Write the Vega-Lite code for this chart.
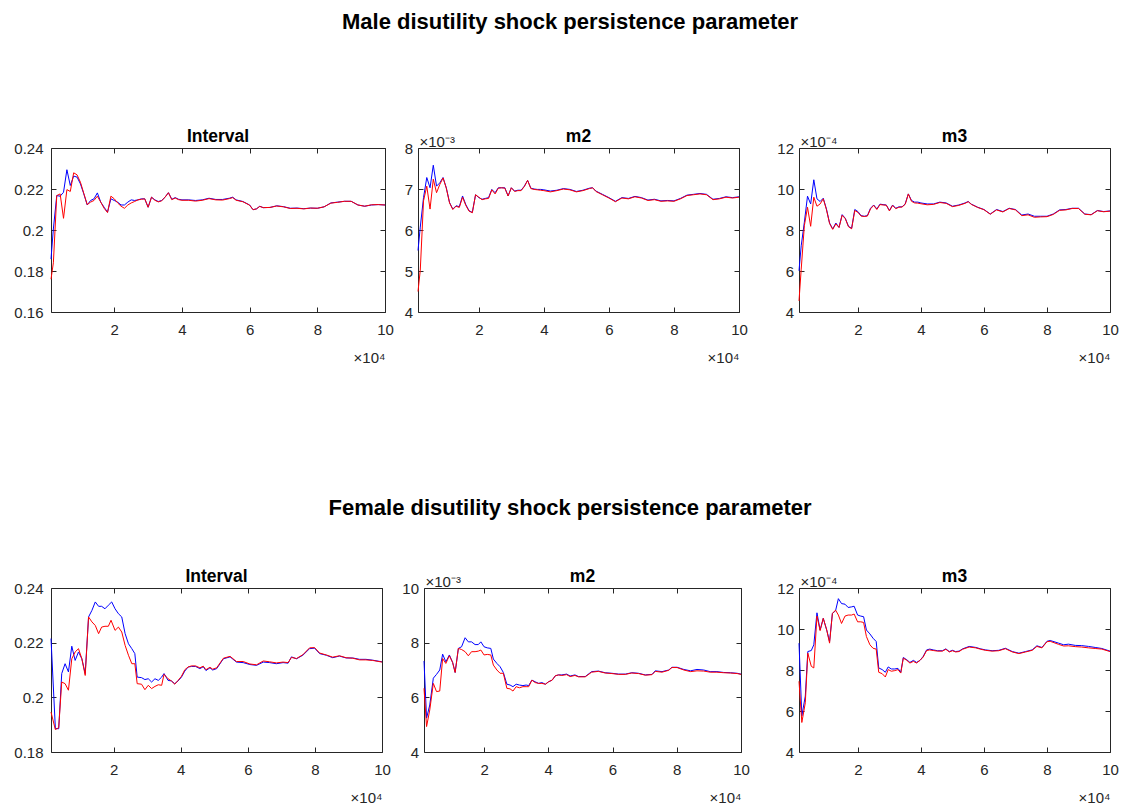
{
  "$schema": "https://vega.github.io/schema/vega-lite/v6.json",
  "background": "white",
  "padding": {"left": 13, "top": 10, "right": 5, "bottom": 5},
  "config": {
    "font": "Liberation Sans",
    "view": {"stroke": null},
    "axis": {
      "grid": false,
      "domainColor": "#262626",
      "domainWidth": 1,
      "tickColor": "#262626",
      "tickWidth": 1,
      "tickSize": -5,
      "labelColor": "#262626",
      "labelFont": "Liberation Sans",
      "labelFontSize": 15,
      "labelPadding": 13,
      "titleColor": "#262626",
      "titleFont": "Liberation Sans",
      "titleFontSize": 15,
      "titleFontWeight": "normal"
    },
    "axisX": {"labelPadding": 15},
    "title": {"anchor": "middle", "font": "Liberation Sans", "fontWeight": "bold", "color": "#000000", "fontSize": 17.5}
  },
  "datasets": {
    "male_interval_1": [
      {"x":1300,"value":0.1858},{"x":2000,"value":0.2005},{"x":3000,"value":0.2168},{"x":4000,"value":0.2165},{"x":5000,"value":0.2184},{"x":6000,"value":0.2294},{"x":7000,"value":0.2217},{"x":8000,"value":0.2263},{"x":9000,"value":0.2258},{"x":10000,"value":0.2225},
      {"x":11000,"value":0.2176},{"x":12000,"value":0.2122},{"x":13000,"value":0.2144},{"x":14000,"value":0.2152},{"x":15000,"value":0.2181},{"x":16000,"value":0.2136},{"x":17000,"value":0.2111},{"x":18000,"value":0.2087},{"x":19000,"value":0.2152},{"x":20000,"value":0.2144},
      {"x":21000,"value":0.2136},{"x":22000,"value":0.2122},{"x":23000,"value":0.2122},{"x":24000,"value":0.2136},{"x":25000,"value":0.2147},{"x":26000,"value":0.2144},{"x":27000,"value":0.2147},{"x":28000,"value":0.2152},{"x":29000,"value":0.2152},{"x":30000,"value":0.2111},
      {"x":31000,"value":0.216},{"x":32000,"value":0.2147},{"x":33000,"value":0.2139},{"x":34000,"value":0.2144},{"x":35000,"value":0.216},{"x":36000,"value":0.2182},{"x":37000,"value":0.215},{"x":38000,"value":0.2158},{"x":39000,"value":0.215},{"x":40000,"value":0.2147},
      {"x":42000,"value":0.2147},{"x":44000,"value":0.2144},{"x":46000,"value":0.2147},{"x":48000,"value":0.2155},{"x":50000,"value":0.2149},{"x":52000,"value":0.2149},{"x":54000,"value":0.2155},{"x":55000,"value":0.216},{"x":56000,"value":0.2147},{"x":58000,"value":0.2139},
      {"x":60000,"value":0.2122},{"x":61000,"value":0.2099},{"x":62000,"value":0.2103},{"x":63000,"value":0.2116},{"x":64000,"value":0.2109},{"x":66000,"value":0.211},{"x":68000,"value":0.2118},{"x":70000,"value":0.2114},{"x":72000,"value":0.2106},{"x":74000,"value":0.2107},
      {"x":76000,"value":0.2104},{"x":78000,"value":0.2107},{"x":80000,"value":0.2106},{"x":82000,"value":0.2113},{"x":84000,"value":0.2132},{"x":86000,"value":0.2136},{"x":88000,"value":0.214},{"x":90000,"value":0.214},{"x":92000,"value":0.2122},{"x":94000,"value":0.2116},
      {"x":96000,"value":0.2122},{"x":98000,"value":0.2124},{"x":100000,"value":0.2122}
    ],
    "male_interval_2": [
      {"x":1300,"value":0.176},{"x":2000,"value":0.184},{"x":3000,"value":0.2168},{"x":4000,"value":0.2176},{"x":5000,"value":0.2057},{"x":6000,"value":0.2197},{"x":7000,"value":0.2188},{"x":8000,"value":0.2279},{"x":9000,"value":0.2269},{"x":10000,"value":0.2233},
      {"x":11000,"value":0.2178},{"x":12000,"value":0.2124},{"x":13000,"value":0.2136},{"x":14000,"value":0.2144},{"x":15000,"value":0.2165},{"x":16000,"value":0.2136},{"x":17000,"value":0.2106},{"x":18000,"value":0.2085},{"x":19000,"value":0.2165},{"x":20000,"value":0.2152},
      {"x":21000,"value":0.2132},{"x":22000,"value":0.2116},{"x":23000,"value":0.2106},{"x":24000,"value":0.2122},{"x":25000,"value":0.2132},{"x":26000,"value":0.2139},{"x":27000,"value":0.2147},{"x":28000,"value":0.215},{"x":29000,"value":0.2152},{"x":30000,"value":0.2111},
      {"x":31000,"value":0.216},{"x":32000,"value":0.2145},{"x":33000,"value":0.2137},{"x":34000,"value":0.2142},{"x":35000,"value":0.216},{"x":36000,"value":0.2182},{"x":37000,"value":0.2148},{"x":38000,"value":0.2156},{"x":39000,"value":0.2148},{"x":40000,"value":0.2145},
      {"x":42000,"value":0.2145},{"x":44000,"value":0.2141},{"x":46000,"value":0.2145},{"x":48000,"value":0.2153},{"x":50000,"value":0.2147},{"x":52000,"value":0.2146},{"x":54000,"value":0.2153},{"x":55000,"value":0.2158},{"x":56000,"value":0.2145},{"x":58000,"value":0.2138},
      {"x":60000,"value":0.2121},{"x":61000,"value":0.2099},{"x":62000,"value":0.2103},{"x":63000,"value":0.2115},{"x":64000,"value":0.2109},{"x":66000,"value":0.211},{"x":68000,"value":0.2117},{"x":70000,"value":0.2113},{"x":72000,"value":0.2105},{"x":74000,"value":0.2106},
      {"x":76000,"value":0.2103},{"x":78000,"value":0.2107},{"x":80000,"value":0.2106},{"x":82000,"value":0.2113},{"x":84000,"value":0.2131},{"x":86000,"value":0.2135},{"x":88000,"value":0.214},{"x":90000,"value":0.214},{"x":92000,"value":0.2122},{"x":94000,"value":0.2116},
      {"x":96000,"value":0.2123},{"x":98000,"value":0.2124},{"x":100000,"value":0.2122}
    ],
    "male_m2_1": [
      {"x":1300,"value":0.0055},{"x":2000,"value":0.00607},{"x":3000,"value":0.00679},{"x":4000,"value":0.00728},{"x":5000,"value":0.00703},{"x":6000,"value":0.00758},{"x":7000,"value":0.00707},{"x":8000,"value":0.00715},{"x":9000,"value":0.00728},{"x":10000,"value":0.00703},
      {"x":11000,"value":0.00667},{"x":12000,"value":0.00651},{"x":13000,"value":0.00659},{"x":14000,"value":0.00657},{"x":15000,"value":0.00683},{"x":16000,"value":0.00662},{"x":17000,"value":0.00647},{"x":18000,"value":0.00643},{"x":19000,"value":0.00686},{"x":20000,"value":0.00679},
      {"x":21000,"value":0.00675},{"x":22000,"value":0.00677},{"x":23000,"value":0.00679},{"x":24000,"value":0.00699},{"x":25000,"value":0.00691},{"x":26000,"value":0.00703},{"x":27000,"value":0.00703},{"x":28000,"value":0.00703},{"x":29000,"value":0.00683},{"x":30000,"value":0.00703},
      {"x":31000,"value":0.00695},{"x":32000,"value":0.00697},{"x":33000,"value":0.00697},{"x":34000,"value":0.00707},{"x":35000,"value":0.00721},{"x":36000,"value":0.00702},{"x":37000,"value":0.007},{"x":38000,"value":0.00699},{"x":39000,"value":0.00699},{"x":40000,"value":0.00698},
      {"x":42000,"value":0.00695},{"x":44000,"value":0.00697},{"x":46000,"value":0.00701},{"x":48000,"value":0.00699},{"x":50000,"value":0.00694},{"x":52000,"value":0.00697},{"x":54000,"value":0.00702},{"x":55000,"value":0.00703},{"x":56000,"value":0.00695},{"x":58000,"value":0.00687},
      {"x":60000,"value":0.00679},{"x":62000,"value":0.0067},{"x":64000,"value":0.00679},{"x":66000,"value":0.00677},{"x":68000,"value":0.00682},{"x":70000,"value":0.00679},{"x":72000,"value":0.00673},{"x":74000,"value":0.00675},{"x":76000,"value":0.00671},{"x":78000,"value":0.00672},
      {"x":80000,"value":0.00671},{"x":82000,"value":0.00677},{"x":84000,"value":0.00685},{"x":86000,"value":0.00687},{"x":88000,"value":0.00689},{"x":90000,"value":0.00687},{"x":92000,"value":0.00675},{"x":94000,"value":0.00677},{"x":96000,"value":0.00681},{"x":98000,"value":0.00679},
      {"x":100000,"value":0.00681}
    ],
    "male_m2_2": [
      {"x":1300,"value":0.0045},{"x":2000,"value":0.00502},{"x":3000,"value":0.00671},{"x":4000,"value":0.00707},{"x":5000,"value":0.00651},{"x":6000,"value":0.00724},{"x":7000,"value":0.00691},{"x":8000,"value":0.00711},{"x":9000,"value":0.00727},{"x":10000,"value":0.00702},
      {"x":11000,"value":0.00666},{"x":12000,"value":0.0065},{"x":13000,"value":0.00658},{"x":14000,"value":0.00655},{"x":15000,"value":0.0068},{"x":16000,"value":0.0066},{"x":17000,"value":0.00646},{"x":18000,"value":0.00642},{"x":19000,"value":0.00686},{"x":20000,"value":0.0068},
      {"x":21000,"value":0.00674},{"x":22000,"value":0.00676},{"x":23000,"value":0.00677},{"x":24000,"value":0.00698},{"x":25000,"value":0.00688},{"x":26000,"value":0.00702},{"x":27000,"value":0.00703},{"x":28000,"value":0.00702},{"x":29000,"value":0.00683},{"x":30000,"value":0.00703},
      {"x":31000,"value":0.00694},{"x":32000,"value":0.00696},{"x":33000,"value":0.00696},{"x":34000,"value":0.00706},{"x":35000,"value":0.00721},{"x":36000,"value":0.00701},{"x":37000,"value":0.00699},{"x":38000,"value":0.00698},{"x":39000,"value":0.00697},{"x":40000,"value":0.00696},
      {"x":42000,"value":0.00693},{"x":44000,"value":0.00696},{"x":46000,"value":0.007},{"x":48000,"value":0.00698},{"x":50000,"value":0.00693},{"x":52000,"value":0.00696},{"x":54000,"value":0.00701},{"x":55000,"value":0.00703},{"x":56000,"value":0.00694},{"x":58000,"value":0.00686},
      {"x":60000,"value":0.00678},{"x":62000,"value":0.00669},{"x":64000,"value":0.00678},{"x":66000,"value":0.00676},{"x":68000,"value":0.00681},{"x":70000,"value":0.00678},{"x":72000,"value":0.00672},{"x":74000,"value":0.00674},{"x":76000,"value":0.0067},{"x":78000,"value":0.00671},
      {"x":80000,"value":0.0067},{"x":82000,"value":0.00676},{"x":84000,"value":0.00684},{"x":86000,"value":0.00686},{"x":88000,"value":0.00688},{"x":90000,"value":0.00686},{"x":92000,"value":0.00674},{"x":94000,"value":0.00676},{"x":96000,"value":0.0068},{"x":98000,"value":0.00678},
      {"x":100000,"value":0.0068}
    ],
    "male_m3_1": [
      {"x":1300,"value":0.000601},{"x":2000,"value":0.000723},{"x":3000,"value":0.000838},{"x":4000,"value":0.000965},{"x":5000,"value":0.000927},{"x":6000,"value":0.001045},{"x":7000,"value":0.000952},{"x":8000,"value":0.000939},{"x":9000,"value":0.000955},{"x":10000,"value":0.000903},
      {"x":11000,"value":0.000834},{"x":12000,"value":0.000805},{"x":13000,"value":0.000834},{"x":14000,"value":0.000813},{"x":15000,"value":0.000875},{"x":16000,"value":0.000857},{"x":17000,"value":0.000818},{"x":18000,"value":0.000808},{"x":19000,"value":0.0009},{"x":20000,"value":0.00089},
      {"x":21000,"value":0.00087},{"x":22000,"value":0.000867},{"x":23000,"value":0.00087},{"x":24000,"value":0.000906},{"x":25000,"value":0.000922},{"x":26000,"value":0.000903},{"x":27000,"value":0.000926},{"x":28000,"value":0.000924},{"x":29000,"value":0.000922},{"x":30000,"value":0.000895},
      {"x":31000,"value":0.000922},{"x":32000,"value":0.000906},{"x":33000,"value":0.000913},{"x":34000,"value":0.000913},{"x":35000,"value":0.000927},{"x":36000,"value":0.000976},{"x":37000,"value":0.000944},{"x":38000,"value":0.000936},{"x":39000,"value":0.000936},{"x":40000,"value":0.000932},
      {"x":42000,"value":0.000927},{"x":44000,"value":0.000927},{"x":46000,"value":0.000936},{"x":48000,"value":0.000932},{"x":50000,"value":0.000916},{"x":52000,"value":0.000922},{"x":54000,"value":0.000932},{"x":55000,"value":0.000939},{"x":56000,"value":0.000926},{"x":58000,"value":0.000911},
      {"x":60000,"value":0.0009},{"x":62000,"value":0.000878},{"x":64000,"value":0.0009},{"x":66000,"value":0.00089},{"x":68000,"value":0.000906},{"x":70000,"value":0.0009},{"x":72000,"value":0.000873},{"x":74000,"value":0.000878},{"x":76000,"value":0.000867},{"x":78000,"value":0.000867},
      {"x":80000,"value":0.000867},{"x":82000,"value":0.000878},{"x":84000,"value":0.000898},{"x":86000,"value":0.0009},{"x":88000,"value":0.000906},{"x":90000,"value":0.000906},{"x":92000,"value":0.000878},{"x":94000,"value":0.000875},{"x":96000,"value":0.000895},{"x":98000,"value":0.00089},
      {"x":100000,"value":0.000893}
    ],
    "male_m3_2": [
      {"x":1300,"value":0.000454},{"x":2000,"value":0.000609},{"x":3000,"value":0.000821},{"x":4000,"value":0.000911},{"x":5000,"value":0.000818},{"x":6000,"value":0.00096},{"x":7000,"value":0.000916},{"x":8000,"value":0.000927},{"x":9000,"value":0.000952},{"x":10000,"value":0.0009},
      {"x":11000,"value":0.000832},{"x":12000,"value":0.000803},{"x":13000,"value":0.00083},{"x":14000,"value":0.000812},{"x":15000,"value":0.000872},{"x":16000,"value":0.000855},{"x":17000,"value":0.000816},{"x":18000,"value":0.000806},{"x":19000,"value":0.000895},{"x":20000,"value":0.000886},
      {"x":21000,"value":0.000868},{"x":22000,"value":0.000866},{"x":23000,"value":0.000868},{"x":24000,"value":0.000903},{"x":25000,"value":0.00092},{"x":26000,"value":0.0009},{"x":27000,"value":0.000924},{"x":28000,"value":0.000922},{"x":29000,"value":0.000921},{"x":30000,"value":0.000893},
      {"x":31000,"value":0.00092},{"x":32000,"value":0.000904},{"x":33000,"value":0.000911},{"x":34000,"value":0.000912},{"x":35000,"value":0.000925},{"x":36000,"value":0.000976},{"x":37000,"value":0.00094},{"x":38000,"value":0.000932},{"x":39000,"value":0.000931},{"x":40000,"value":0.000928},
      {"x":42000,"value":0.000923},{"x":44000,"value":0.000925},{"x":46000,"value":0.000934},{"x":48000,"value":0.00093},{"x":50000,"value":0.000914},{"x":52000,"value":0.00092},{"x":54000,"value":0.00093},{"x":55000,"value":0.000938},{"x":56000,"value":0.000925},{"x":58000,"value":0.00091},
      {"x":60000,"value":0.000899},{"x":62000,"value":0.000877},{"x":64000,"value":0.000898},{"x":66000,"value":0.000888},{"x":68000,"value":0.000905},{"x":70000,"value":0.000898},{"x":72000,"value":0.00087},{"x":74000,"value":0.000874},{"x":76000,"value":0.000862},{"x":78000,"value":0.000864},
      {"x":80000,"value":0.000865},{"x":82000,"value":0.000876},{"x":84000,"value":0.000896},{"x":86000,"value":0.000898},{"x":88000,"value":0.000905},{"x":90000,"value":0.000905},{"x":92000,"value":0.000877},{"x":94000,"value":0.000874},{"x":96000,"value":0.000894},{"x":98000,"value":0.000889},
      {"x":100000,"value":0.000892}
    ],
    "female_interval_1": [
      {"x":1300,"value":0.2215},{"x":2600,"value":0.1886},{"x":3600,"value":0.1885},{"x":4500,"value":0.2087},{"x":5500,"value":0.2123},{"x":6500,"value":0.2093},{"x":7500,"value":0.2187},{"x":8500,"value":0.2135},{"x":9500,"value":0.2166},{"x":10500,"value":0.2141},
      {"x":11500,"value":0.2087},{"x":12500,"value":0.2294},{"x":13500,"value":0.2318},{"x":14500,"value":0.2349},{"x":15500,"value":0.2333},{"x":16400,"value":0.2333},{"x":17400,"value":0.2324},{"x":18400,"value":0.2337},{"x":19400,"value":0.2349},{"x":20400,"value":0.2324},
      {"x":21400,"value":0.2306},{"x":22400,"value":0.2294},{"x":23400,"value":0.2233},{"x":24400,"value":0.2196},{"x":25400,"value":0.2178},{"x":26300,"value":0.216},{"x":27000,"value":0.2074},{"x":28300,"value":0.2072},{"x":29300,"value":0.2065},{"x":30300,"value":0.2068},
      {"x":31300,"value":0.2056},{"x":32300,"value":0.2068},{"x":33300,"value":0.2062},{"x":34300,"value":0.2074},{"x":35000,"value":0.2087},{"x":36200,"value":0.2062},{"x":37200,"value":0.206},{"x":38200,"value":0.205},{"x":39200,"value":0.206},{"x":40200,"value":0.2074},
      {"x":41200,"value":0.2096},{"x":42200,"value":0.2111},{"x":43200,"value":0.2113},{"x":44400,"value":0.2113},{"x":45700,"value":0.2105},{"x":46700,"value":0.2112},{"x":47500,"value":0.2098},{"x":48700,"value":0.2108},{"x":49500,"value":0.21},{"x":50700,"value":0.2105},
      {"x":52700,"value":0.2141},{"x":54700,"value":0.2148},{"x":56600,"value":0.2129},{"x":58600,"value":0.2127},{"x":60600,"value":0.212},{"x":62600,"value":0.2117},{"x":64600,"value":0.2129},{"x":66500,"value":0.2127},{"x":68500,"value":0.2123},{"x":70500,"value":0.2127},
      {"x":72000,"value":0.2125},{"x":73000,"value":0.2148},{"x":74500,"value":0.2141},{"x":76400,"value":0.2154},{"x":78400,"value":0.2178},{"x":79900,"value":0.218},{"x":81400,"value":0.216},{"x":83400,"value":0.2154},{"x":85300,"value":0.2145},{"x":87300,"value":0.2151},
      {"x":89300,"value":0.2144},{"x":91300,"value":0.2144},{"x":93300,"value":0.2139},{"x":95200,"value":0.2139},{"x":97200,"value":0.2136},{"x":100000,"value":0.213}
    ],
    "female_interval_2": [
      {"x":1300,"value":0.1946},{"x":2600,"value":0.1882},{"x":3600,"value":0.1889},{"x":4500,"value":0.2056},{"x":5500,"value":0.205},{"x":6500,"value":0.2026},{"x":7500,"value":0.2141},{"x":8500,"value":0.2166},{"x":9500,"value":0.2178},{"x":10500,"value":0.2141},
      {"x":11500,"value":0.208},{"x":12500,"value":0.2294},{"x":13500,"value":0.2276},{"x":14500,"value":0.2263},{"x":15500,"value":0.2233},{"x":16400,"value":0.2257},{"x":17400,"value":0.226},{"x":18400,"value":0.226},{"x":19200,"value":0.2282},{"x":20400,"value":0.2245},
      {"x":21400,"value":0.2257},{"x":22400,"value":0.2239},{"x":23400,"value":0.219},{"x":24400,"value":0.2154},{"x":25400,"value":0.2123},{"x":26300,"value":0.2123},{"x":27000,"value":0.205},{"x":28300,"value":0.2048},{"x":29300,"value":0.2028},{"x":30300,"value":0.2044},
      {"x":31300,"value":0.2032},{"x":32300,"value":0.204},{"x":33300,"value":0.2046},{"x":34300,"value":0.2044},{"x":35000,"value":0.2084},{"x":36200,"value":0.2068},{"x":37200,"value":0.206},{"x":38200,"value":0.2048},{"x":39200,"value":0.2062},{"x":40200,"value":0.2077},
      {"x":41200,"value":0.2101},{"x":42200,"value":0.2111},{"x":43200,"value":0.2115},{"x":44400,"value":0.2115},{"x":45700,"value":0.2108},{"x":46700,"value":0.2114},{"x":47500,"value":0.2101},{"x":48700,"value":0.211},{"x":49500,"value":0.2103},{"x":50700,"value":0.2108},
      {"x":52700,"value":0.2143},{"x":54700,"value":0.215},{"x":56600,"value":0.2131},{"x":58600,"value":0.2131},{"x":60600,"value":0.2122},{"x":62600,"value":0.2119},{"x":64600,"value":0.2133},{"x":66500,"value":0.213},{"x":68500,"value":0.2126},{"x":70500,"value":0.2129},
      {"x":72000,"value":0.2127},{"x":73000,"value":0.2146},{"x":74500,"value":0.2142},{"x":76400,"value":0.2156},{"x":78400,"value":0.2181},{"x":79900,"value":0.2182},{"x":81400,"value":0.2162},{"x":83400,"value":0.2155},{"x":85300,"value":0.2147},{"x":87300,"value":0.2152},
      {"x":89300,"value":0.2145},{"x":91300,"value":0.2143},{"x":93300,"value":0.2137},{"x":95200,"value":0.2137},{"x":97200,"value":0.2135},{"x":100000,"value":0.2129}
    ],
    "female_m2_1": [
      {"x":1300,"value":0.00733},{"x":2100,"value":0.00524},{"x":3100,"value":0.00572},{"x":4200,"value":0.0067},{"x":5200,"value":0.00684},{"x":6200,"value":0.007},{"x":7100,"value":0.00758},{"x":8100,"value":0.0073},{"x":9200,"value":0.00755},{"x":10200,"value":0.00728},
      {"x":11000,"value":0.00691},{"x":12000,"value":0.00779},{"x":13000,"value":0.00785},{"x":14100,"value":0.00818},{"x":15100,"value":0.00803},{"x":16100,"value":0.00803},{"x":17200,"value":0.00793},{"x":18200,"value":0.00793},{"x":19000,"value":0.00803},{"x":20000,"value":0.00785},
      {"x":21000,"value":0.00781},{"x":22100,"value":0.00779},{"x":22900,"value":0.0074},{"x":24000,"value":0.00724},{"x":25000,"value":0.00712},{"x":26000,"value":0.00691},{"x":27100,"value":0.00648},{"x":28100,"value":0.00645},{"x":29000,"value":0.00639},{"x":30000,"value":0.00648},
      {"x":31000,"value":0.00645},{"x":32100,"value":0.00643},{"x":33100,"value":0.00645},{"x":33900,"value":0.00643},{"x":34900,"value":0.00663},{"x":35900,"value":0.00657},{"x":37000,"value":0.00651},{"x":38000,"value":0.00654},{"x":39100,"value":0.00648},{"x":40100,"value":0.00657},
      {"x":41200,"value":0.00663},{"x":42200,"value":0.00679},{"x":43200,"value":0.00682},{"x":44200,"value":0.00682},{"x":45700,"value":0.00685},{"x":46800,"value":0.00678},{"x":48300,"value":0.00682},{"x":49400,"value":0.00676},{"x":51500,"value":0.00676},{"x":53500,"value":0.00694},
      {"x":55600,"value":0.00696},{"x":57700,"value":0.0069},{"x":59800,"value":0.00688},{"x":61900,"value":0.00685},{"x":64000,"value":0.00685},{"x":66000,"value":0.0069},{"x":68100,"value":0.00688},{"x":70200,"value":0.00682},{"x":72300,"value":0.00684},{"x":73300,"value":0.00697},
      {"x":75400,"value":0.00694},{"x":77500,"value":0.007},{"x":78500,"value":0.0071},{"x":80100,"value":0.0071},{"x":82200,"value":0.00702},{"x":84300,"value":0.00697},{"x":86300,"value":0.00702},{"x":88400,"value":0.007},{"x":90400,"value":0.00694},{"x":92500,"value":0.00694},
      {"x":94600,"value":0.00691},{"x":96700,"value":0.0069},{"x":98800,"value":0.00688},{"x":100000,"value":0.00685}
    ],
    "female_m2_2": [
      {"x":1300,"value":0.00633},{"x":2100,"value":0.00493},{"x":3100,"value":0.00554},{"x":4200,"value":0.00651},{"x":5200,"value":0.00621},{"x":6200,"value":0.00623},{"x":7100,"value":0.00742},{"x":8100,"value":0.00724},{"x":9200,"value":0.00752},{"x":10200,"value":0.00728},
      {"x":11000,"value":0.00691},{"x":12000,"value":0.00779},{"x":13000,"value":0.00775},{"x":14100,"value":0.00767},{"x":15100,"value":0.00752},{"x":16100,"value":0.00767},{"x":17200,"value":0.00767},{"x":18200,"value":0.00769},{"x":19000,"value":0.00773},{"x":20000,"value":0.00755},
      {"x":21000,"value":0.00757},{"x":22100,"value":0.00755},{"x":22900,"value":0.00718},{"x":24000,"value":0.007},{"x":25000,"value":0.00688},{"x":26000,"value":0.00688},{"x":27100,"value":0.00633},{"x":28100,"value":0.00631},{"x":29000,"value":0.00623},{"x":30000,"value":0.00639},
      {"x":31000,"value":0.00635},{"x":32100,"value":0.00639},{"x":33100,"value":0.00639},{"x":33900,"value":0.00639},{"x":34900,"value":0.00663},{"x":35900,"value":0.00654},{"x":37000,"value":0.00651},{"x":38000,"value":0.00651},{"x":39100,"value":0.00648},{"x":40100,"value":0.00657},
      {"x":41200,"value":0.00663},{"x":42200,"value":0.00679},{"x":43200,"value":0.00682},{"x":44200,"value":0.0068},{"x":45700,"value":0.00683},{"x":46800,"value":0.00676},{"x":48300,"value":0.0068},{"x":49400,"value":0.00675},{"x":51500,"value":0.00675},{"x":53500,"value":0.00692},
      {"x":55600,"value":0.00695},{"x":57700,"value":0.00689},{"x":59800,"value":0.00687},{"x":61900,"value":0.00684},{"x":64000,"value":0.00684},{"x":66000,"value":0.00689},{"x":68100,"value":0.00687},{"x":70200,"value":0.00681},{"x":72300,"value":0.00683},{"x":73300,"value":0.00695},
      {"x":75400,"value":0.00692},{"x":77500,"value":0.00699},{"x":78500,"value":0.00709},{"x":80100,"value":0.00709},{"x":82200,"value":0.007},{"x":84300,"value":0.00694},{"x":86300,"value":0.00697},{"x":88400,"value":0.00696},{"x":90400,"value":0.00692},{"x":92500,"value":0.00692},
      {"x":94600,"value":0.0069},{"x":96700,"value":0.00689},{"x":98800,"value":0.00687},{"x":100000,"value":0.00684}
    ],
    "female_m3_1": [
      {"x":1300,"value":0.000931},{"x":2200,"value":0.000576},{"x":3300,"value":0.000673},{"x":4100,"value":0.00089},{"x":5200,"value":0.000895},{"x":6000,"value":0.000923},{"x":7000,"value":0.001079},{"x":8000,"value":0.000995},{"x":9000,"value":0.001052},{"x":10100,"value":0.000995},
      {"x":11000,"value":0.000939},{"x":11900,"value":0.001076},{"x":12900,"value":0.001089},{"x":13800,"value":0.001148},{"x":14800,"value":0.001124},{"x":15900,"value":0.001121},{"x":16900,"value":0.001105},{"x":18000,"value":0.001108},{"x":18800,"value":0.001111},{"x":19900,"value":0.001068},
      {"x":20900,"value":0.001063},{"x":21800,"value":0.00106},{"x":22700,"value":0.000995},{"x":23800,"value":0.000976},{"x":24800,"value":0.000955},{"x":25800,"value":0.000939},{"x":26600,"value":0.00081},{"x":27700,"value":0.000802},{"x":28700,"value":0.000789},{"x":29600,"value":0.000815},
      {"x":30600,"value":0.000805},{"x":31700,"value":0.000805},{"x":32700,"value":0.000808},{"x":33600,"value":0.000789},{"x":34400,"value":0.000861},{"x":35500,"value":0.00085},{"x":36500,"value":0.000837},{"x":37600,"value":0.000847},{"x":38600,"value":0.000837},{"x":39700,"value":0.000847},
      {"x":40700,"value":0.000866},{"x":41800,"value":0.000898},{"x":42800,"value":0.000902},{"x":43900,"value":0.000898},{"x":45300,"value":0.000894},{"x":46800,"value":0.000894},{"x":47900,"value":0.000903},{"x":49000,"value":0.00089},{"x":50000,"value":0.000896},{"x":51000,"value":0.00089},
      {"x":52100,"value":0.000892},{"x":53200,"value":0.000903},{"x":55300,"value":0.000915},{"x":57400,"value":0.00091},{"x":59000,"value":0.000903},{"x":60500,"value":0.000898},{"x":62600,"value":0.000894},{"x":64700,"value":0.000896},{"x":66800,"value":0.000906},{"x":69000,"value":0.00089},
      {"x":71100,"value":0.000882},{"x":73200,"value":0.00089},{"x":75300,"value":0.000898},{"x":76800,"value":0.000918},{"x":78400,"value":0.00091},{"x":80000,"value":0.00094},{"x":81000,"value":0.000944},{"x":83700,"value":0.000931},{"x":85300,"value":0.000923},{"x":86800,"value":0.000926},
      {"x":89000,"value":0.00092},{"x":91000,"value":0.000919},{"x":93200,"value":0.000915},{"x":95300,"value":0.00091},{"x":97400,"value":0.000905},{"x":100000,"value":0.000892}
    ],
    "female_m3_2": [
      {"x":1300,"value":0.000745},{"x":2200,"value":0.000544},{"x":3300,"value":0.00064},{"x":4100,"value":0.000882},{"x":5200,"value":0.000818},{"x":6000,"value":0.00081},{"x":7000,"value":0.001063},{"x":8000,"value":0.000992},{"x":9000,"value":0.001052},{"x":10100,"value":0.000995},
      {"x":11000,"value":0.000931},{"x":11900,"value":0.001076},{"x":12900,"value":0.001092},{"x":13800,"value":0.001068},{"x":14800,"value":0.001027},{"x":15900,"value":0.001063},{"x":16900,"value":0.001068},{"x":18000,"value":0.001068},{"x":18800,"value":0.001073},{"x":19900,"value":0.001035},
      {"x":20900,"value":0.001035},{"x":21800,"value":0.001032},{"x":22700,"value":0.000963},{"x":23800,"value":0.000923},{"x":24800,"value":0.000906},{"x":25800,"value":0.000902},{"x":26600,"value":0.000789},{"x":27700,"value":0.000782},{"x":28700,"value":0.000766},{"x":29600,"value":0.000802},
      {"x":30600,"value":0.000794},{"x":31700,"value":0.000797},{"x":32700,"value":0.000802},{"x":33600,"value":0.000785},{"x":34400,"value":0.000858},{"x":35500,"value":0.000847},{"x":36500,"value":0.000834},{"x":37600,"value":0.000842},{"x":38600,"value":0.000834},{"x":39700,"value":0.000847},
      {"x":40700,"value":0.000863},{"x":41800,"value":0.000895},{"x":42800,"value":0.000898},{"x":43900,"value":0.000895},{"x":45300,"value":0.000892},{"x":46800,"value":0.000892},{"x":47900,"value":0.000901},{"x":49000,"value":0.000888},{"x":50000,"value":0.000894},{"x":51000,"value":0.000888},
      {"x":52100,"value":0.00089},{"x":53200,"value":0.000901},{"x":55300,"value":0.000912},{"x":57400,"value":0.000908},{"x":59000,"value":0.000901},{"x":60500,"value":0.000896},{"x":62600,"value":0.000892},{"x":64700,"value":0.000894},{"x":66800,"value":0.000904},{"x":69000,"value":0.000888},
      {"x":71100,"value":0.00088},{"x":73200,"value":0.000888},{"x":75300,"value":0.000896},{"x":76800,"value":0.000915},{"x":78400,"value":0.000908},{"x":80000,"value":0.000938},{"x":81000,"value":0.00094},{"x":83700,"value":0.000925},{"x":85300,"value":0.000917},{"x":86800,"value":0.000918},
      {"x":89000,"value":0.000914},{"x":91000,"value":0.000912},{"x":93200,"value":0.000908},{"x":95300,"value":0.000905},{"x":97400,"value":0.000902},{"x":100000,"value":0.00089}
    ]
  },
  "spacing": 131,
  "vconcat": [
    {
      "title": {"text": "Male disutility shock persistence parameter", "fontSize": 22, "offset": 94, "dx": 4},
      "spacing": 10,
      "hconcat": [
        {
          "width": 334, "height": 164,
          "title": {"text": "Interval", "offset": -4},
          "layer": [
            {"data": {"name": "male_interval_1"}, "mark": {"type": "line", "color": "#0000ff", "strokeWidth": 1},
             "encoding": {
               "x": {"field": "x", "type": "quantitative", "scale": {"domain": [1300, 100000], "nice": false, "zero": false},
                     "axis": {"orient": "bottom", "values": [20000, 40000, 60000, 80000, 100000], "labelExpr": "format(datum.value / 10000, 'd')", "labelFlush": false, "title": "×10⁴", "titleAnchor": "end", "titleAlign": "right", "titlePadding": 13}},
               "y": {"field": "value", "type": "quantitative", "scale": {"domain": [0.16, 0.24], "nice": false, "zero": false},
                     "axis": {"orient": "left", "values": [0.16, 0.18, 0.2, 0.22, 0.24], "format": ".2~f", "title": null}}}},
            {"data": {"name": "male_interval_2"}, "mark": {"type": "line", "color": "#ff0000", "strokeWidth": 1},
             "encoding": {
               "x": {"field": "x", "type": "quantitative", "scale": {"domain": [1300, 100000], "nice": false, "zero": false},
                     "axis": {"orient": "top", "values": [20000, 40000, 60000, 80000, 100000], "labels": false, "title": null}},
               "y": {"field": "value", "type": "quantitative", "scale": {"domain": [0.16, 0.24], "nice": false, "zero": false},
                     "axis": {"orient": "right", "values": [0.16, 0.18, 0.2, 0.22, 0.24], "labels": false, "title": null}}}}
          ],
          "resolve": {"axis": {"x": "independent", "y": "independent"}}
        },
        {
          "spacing": 28,
          "hconcat": [
            {
              "width": 321, "height": 164,
              "title": {"text": "m2", "offset": -11},
              "layer": [
                {"data": {"name": "male_m2_1"}, "mark": {"type": "line", "color": "#0000ff", "strokeWidth": 1},
                 "encoding": {
                   "x": {"field": "x", "type": "quantitative", "scale": {"domain": [1300, 100000], "nice": false, "zero": false},
                         "axis": {"orient": "bottom", "values": [20000, 40000, 60000, 80000, 100000], "labelExpr": "format(datum.value / 10000, 'd')", "labelFlush": false, "title": "×10⁴", "titleAnchor": "end", "titleAlign": "right", "titlePadding": 13}},
                   "y": {"field": "value", "type": "quantitative", "scale": {"domain": [0.004, 0.008], "nice": false, "zero": false},
                         "axis": {"orient": "left", "values": [0.004, 0.005, 0.006, 0.007, 0.008], "labelExpr": "format(datum.value * 1000, '.0f')", "labelPadding": 10.5, "title": "×10⁻³", "titleAngle": 0, "titleX": 1, "titleY": -2, "titleAlign": "left", "titleBaseline": "alphabetic"}}}},
                {"data": {"name": "male_m2_2"}, "mark": {"type": "line", "color": "#ff0000", "strokeWidth": 1},
                 "encoding": {
                   "x": {"field": "x", "type": "quantitative", "scale": {"domain": [1300, 100000], "nice": false, "zero": false},
                         "axis": {"orient": "top", "values": [20000, 40000, 60000, 80000, 100000], "labels": false, "title": null}},
                   "y": {"field": "value", "type": "quantitative", "scale": {"domain": [0.004, 0.008], "nice": false, "zero": false},
                         "axis": {"orient": "right", "values": [0.004, 0.005, 0.006, 0.007, 0.008], "labels": false, "title": null}}}}
              ],
              "resolve": {"axis": {"x": "independent", "y": "independent"}}
            },
            {
              "width": 311, "height": 164,
              "title": {"text": "m3", "offset": -11},
              "layer": [
                {"data": {"name": "male_m3_1"}, "mark": {"type": "line", "color": "#0000ff", "strokeWidth": 1},
                 "encoding": {
                   "x": {"field": "x", "type": "quantitative", "scale": {"domain": [1300, 100000], "nice": false, "zero": false},
                         "axis": {"orient": "bottom", "values": [20000, 40000, 60000, 80000, 100000], "labelExpr": "format(datum.value / 10000, 'd')", "labelFlush": false, "title": "×10⁴", "titleAnchor": "end", "titleAlign": "right", "titlePadding": 13}},
                   "y": {"field": "value", "type": "quantitative", "scale": {"domain": [0.0004, 0.0012], "nice": false, "zero": false},
                         "axis": {"orient": "left", "values": [0.0004, 0.0006, 0.0008, 0.001, 0.0012], "labelExpr": "format(datum.value * 10000, '.0f')", "labelPadding": 10.5, "title": "×10⁻⁴", "titleAngle": 0, "titleX": 1, "titleY": -2, "titleAlign": "left", "titleBaseline": "alphabetic"}}}},
                {"data": {"name": "male_m3_2"}, "mark": {"type": "line", "color": "#ff0000", "strokeWidth": 1},
                 "encoding": {
                   "x": {"field": "x", "type": "quantitative", "scale": {"domain": [1300, 100000], "nice": false, "zero": false},
                         "axis": {"orient": "top", "values": [20000, 40000, 60000, 80000, 100000], "labels": false, "title": null}},
                   "y": {"field": "value", "type": "quantitative", "scale": {"domain": [0.0004, 0.0012], "nice": false, "zero": false},
                         "axis": {"orient": "right", "values": [0.0004, 0.0006, 0.0008, 0.001, 0.0012], "labels": false, "title": null}}}}
              ],
              "resolve": {"axis": {"x": "independent", "y": "independent"}}
            }
          ]
        }
      ]
    },
    {
      "title": {"text": "Female disutility shock persistence parameter", "fontSize": 22, "offset": 48, "dx": 4},
      "spacing": 10,
      "hconcat": [
        {
          "width": 331, "height": 164,
          "title": {"text": "Interval", "offset": -4},
          "layer": [
            {"data": {"name": "female_interval_1"}, "mark": {"type": "line", "color": "#0000ff", "strokeWidth": 1},
             "encoding": {
               "x": {"field": "x", "type": "quantitative", "scale": {"domain": [1300, 100000], "nice": false, "zero": false},
                     "axis": {"orient": "bottom", "values": [20000, 40000, 60000, 80000, 100000], "labelExpr": "format(datum.value / 10000, 'd')", "labelFlush": false, "title": "×10⁴", "titleAnchor": "end", "titleAlign": "right", "titlePadding": 13}},
               "y": {"field": "value", "type": "quantitative", "scale": {"domain": [0.18, 0.24], "nice": false, "zero": false},
                     "axis": {"orient": "left", "values": [0.18, 0.2, 0.22, 0.24], "format": ".2~f", "title": null}}}},
            {"data": {"name": "female_interval_2"}, "mark": {"type": "line", "color": "#ff0000", "strokeWidth": 1},
             "encoding": {
               "x": {"field": "x", "type": "quantitative", "scale": {"domain": [1300, 100000], "nice": false, "zero": false},
                     "axis": {"orient": "top", "values": [20000, 40000, 60000, 80000, 100000], "labels": false, "title": null}},
               "y": {"field": "value", "type": "quantitative", "scale": {"domain": [0.18, 0.24], "nice": false, "zero": false},
                     "axis": {"orient": "right", "values": [0.18, 0.2, 0.22, 0.24], "labels": false, "title": null}}}}
          ],
          "resolve": {"axis": {"x": "independent", "y": "independent"}}
        },
        {
          "spacing": 26,
          "hconcat": [
            {
              "width": 317, "height": 164,
              "title": {"text": "m2", "offset": -11},
              "layer": [
                {"data": {"name": "female_m2_1"}, "mark": {"type": "line", "color": "#0000ff", "strokeWidth": 1},
                 "encoding": {
                   "x": {"field": "x", "type": "quantitative", "scale": {"domain": [1300, 100000], "nice": false, "zero": false},
                         "axis": {"orient": "bottom", "values": [20000, 40000, 60000, 80000, 100000], "labelExpr": "format(datum.value / 10000, 'd')", "labelFlush": false, "title": "×10⁴", "titleAnchor": "end", "titleAlign": "right", "titlePadding": 13}},
                   "y": {"field": "value", "type": "quantitative", "scale": {"domain": [0.004, 0.01], "nice": false, "zero": false},
                         "axis": {"orient": "left", "values": [0.004, 0.006, 0.008, 0.01], "labelExpr": "format(datum.value * 1000, '.0f')", "labelPadding": 10.5, "title": "×10⁻³", "titleAngle": 0, "titleX": 1, "titleY": -2, "titleAlign": "left", "titleBaseline": "alphabetic"}}}},
                {"data": {"name": "female_m2_2"}, "mark": {"type": "line", "color": "#ff0000", "strokeWidth": 1},
                 "encoding": {
                   "x": {"field": "x", "type": "quantitative", "scale": {"domain": [1300, 100000], "nice": false, "zero": false},
                         "axis": {"orient": "top", "values": [20000, 40000, 60000, 80000, 100000], "labels": false, "title": null}},
                   "y": {"field": "value", "type": "quantitative", "scale": {"domain": [0.004, 0.01], "nice": false, "zero": false},
                         "axis": {"orient": "right", "values": [0.004, 0.006, 0.008, 0.01], "labels": false, "title": null}}}}
              ],
              "resolve": {"axis": {"x": "independent", "y": "independent"}}
            },
            {
              "width": 311, "height": 164,
              "title": {"text": "m3", "offset": -11},
              "layer": [
                {"data": {"name": "female_m3_1"}, "mark": {"type": "line", "color": "#0000ff", "strokeWidth": 1},
                 "encoding": {
                   "x": {"field": "x", "type": "quantitative", "scale": {"domain": [1300, 100000], "nice": false, "zero": false},
                         "axis": {"orient": "bottom", "values": [20000, 40000, 60000, 80000, 100000], "labelExpr": "format(datum.value / 10000, 'd')", "labelFlush": false, "title": "×10⁴", "titleAnchor": "end", "titleAlign": "right", "titlePadding": 13}},
                   "y": {"field": "value", "type": "quantitative", "scale": {"domain": [0.0004, 0.0012], "nice": false, "zero": false},
                         "axis": {"orient": "left", "values": [0.0004, 0.0006, 0.0008, 0.001, 0.0012], "labelExpr": "format(datum.value * 10000, '.0f')", "labelPadding": 10.5, "title": "×10⁻⁴", "titleAngle": 0, "titleX": 1, "titleY": -2, "titleAlign": "left", "titleBaseline": "alphabetic"}}}},
                {"data": {"name": "female_m3_2"}, "mark": {"type": "line", "color": "#ff0000", "strokeWidth": 1},
                 "encoding": {
                   "x": {"field": "x", "type": "quantitative", "scale": {"domain": [1300, 100000], "nice": false, "zero": false},
                         "axis": {"orient": "top", "values": [20000, 40000, 60000, 80000, 100000], "labels": false, "title": null}},
                   "y": {"field": "value", "type": "quantitative", "scale": {"domain": [0.0004, 0.0012], "nice": false, "zero": false},
                         "axis": {"orient": "right", "values": [0.0004, 0.0006, 0.0008, 0.001, 0.0012], "labels": false, "title": null}}}}
              ],
              "resolve": {"axis": {"x": "independent", "y": "independent"}}
            }
          ]
        }
      ]
    }
  ]
}
